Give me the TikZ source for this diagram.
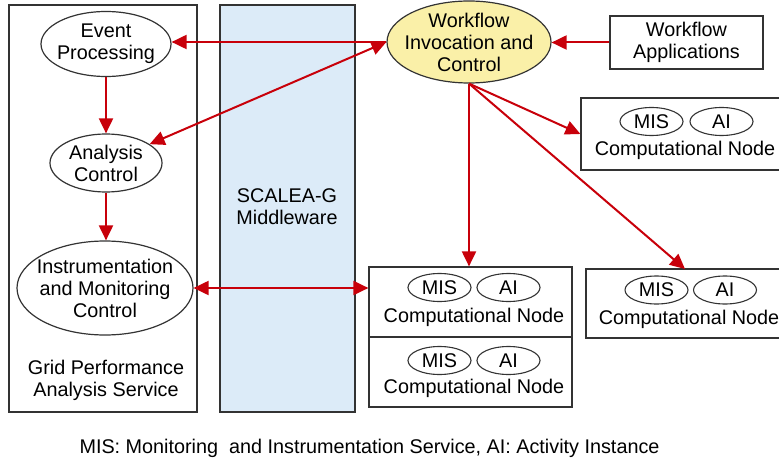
\documentclass[tikz,border=0pt]{standalone}
\usepackage{fontspec}
\setmainfont{Liberation Sans}
\usetikzlibrary{arrows.meta,shapes.geometric}
\definecolor{arrred}{HTML}{C8000A}
\definecolor{mwblue}{HTML}{DCEBF8}
\definecolor{wfyellow}{HTML}{FAF0A8}
\definecolor{edge}{HTML}{333333}
\tikzset{
  txt/.style={font=\fontsize{19.8}{22}\selectfont, align=center, inner sep=0pt},
  oval/.style={ellipse, draw=edge, line width=1.2pt, inner sep=0pt},
  box/.style={rectangle, draw=edge, line width=1.2pt, txt},
  small/.style={ellipse, draw=edge, line width=1.1pt, txt, minimum width=63pt, minimum height=28pt},
  arr/.style={draw=arrred, line width=2pt, -{Triangle[length=15pt,width=14pt]}},
  darr/.style={draw=arrred, line width=2pt, {Triangle[length=15pt,width=14pt]}-{Triangle[length=15pt,width=14pt]}}
}
\begin{document}
\begin{tikzpicture}[x=1pt,y=-1pt]
\useasboundingbox (0,0) rectangle (779,465);
% containers
\node[box, minimum width=188pt, minimum height=407pt] (gpas) at (103,208.5) {};
\node[box, fill=mwblue, minimum width=135pt, minimum height=407pt] (mw) at (287.5,208.5) {};
\node[txt] (gpaslbl) at (106,380) {Grid Performance\\Analysis Service};
\node[txt] (mwlbl) at (287,207) {SCALEA-G\\Middleware};
% left ellipses
\node[oval, minimum width=130pt, minimum height=65pt] (ep) at (106,44) {};
\node[txt] (epl) at (ep) {Event\\Processing};
\node[oval, minimum width=112pt, minimum height=58pt] (ac) at (106,163) {};
\node[txt] (acl) at (ac) {Analysis\\Control};
\node[oval, minimum width=176pt, minimum height=94pt] (imc) at (105,288) {};
\node[txt] (imcl) at (imc) {Instrumentation\\and Monitoring\\Control};
% workflow
\node[oval, fill=wfyellow, minimum width=164pt, minimum height=82pt] (wf) at (469,42) {};
\node[txt] (wfl) at (wf) {Workflow\\Invocation and\\Control};
\node[box, minimum width=153pt, minimum height=53pt] (wfapp) at (686.5,42.5) {Workflow\\Applications};
% computational nodes
\node[box, minimum width=209pt, minimum height=72pt] (cn1) at (685.5,134) {};
\node[small] (mis1) at (651.5,121.5) {MIS};
\node[small] (ai1) at (721.5,121.5) {AI};
\node[txt] (t1) at (685,150) {Computational Node};

\node[box, minimum width=203pt, minimum height=70pt] (cn2) at (470.5,302) {};
\node[small] (mis2) at (439.5,287.5) {MIS};
\node[small] (ai2) at (508.5,287.5) {AI};
\node[txt] (t2) at (474,317) {Computational Node};

\node[box, minimum width=203pt, minimum height=70pt] (cn3) at (470.5,372) {};
\node[small] (mis3) at (439.5,360.5) {MIS};
\node[small] (ai3) at (508.5,360.5) {AI};
\node[txt] (t3) at (474,388) {Computational Node};

\node[box, minimum width=204pt, minimum height=69pt] (cn4) at (688,303.5) {};
\node[small] (mis4) at (656.5,290) {MIS};
\node[small] (ai4) at (725,290) {AI};
\node[txt] (t4) at (689,319) {Computational Node};
% caption
\node[txt] (cap) at (369.5,448) {MIS: Monitoring\ \ and Instrumentation Service, AI: Activity Instance};
% connectors
\draw[arr] (wfapp.west) -- (wfapp.west -| wf.east);
\draw[arr] (wf.west) -- (ep.east |- wf.west);
\draw[darr] (ac) -- (wf.west);
\draw[arr] (ep.south) -- (ac.north);
\draw[arr] (ac.south) -- (ac.south |- imc.north);
\draw[darr] (imc.east) -- (imc.east -| cn2.west);
\draw[arr] (wf.south) -- (wf.south |- cn2.north);
\draw[arr] (wf.south) -- (cn1.west);
\coordinate (c4top) at (685,269);
\draw[arr] (wf.south) -- (c4top);
\end{tikzpicture}
\end{document}
